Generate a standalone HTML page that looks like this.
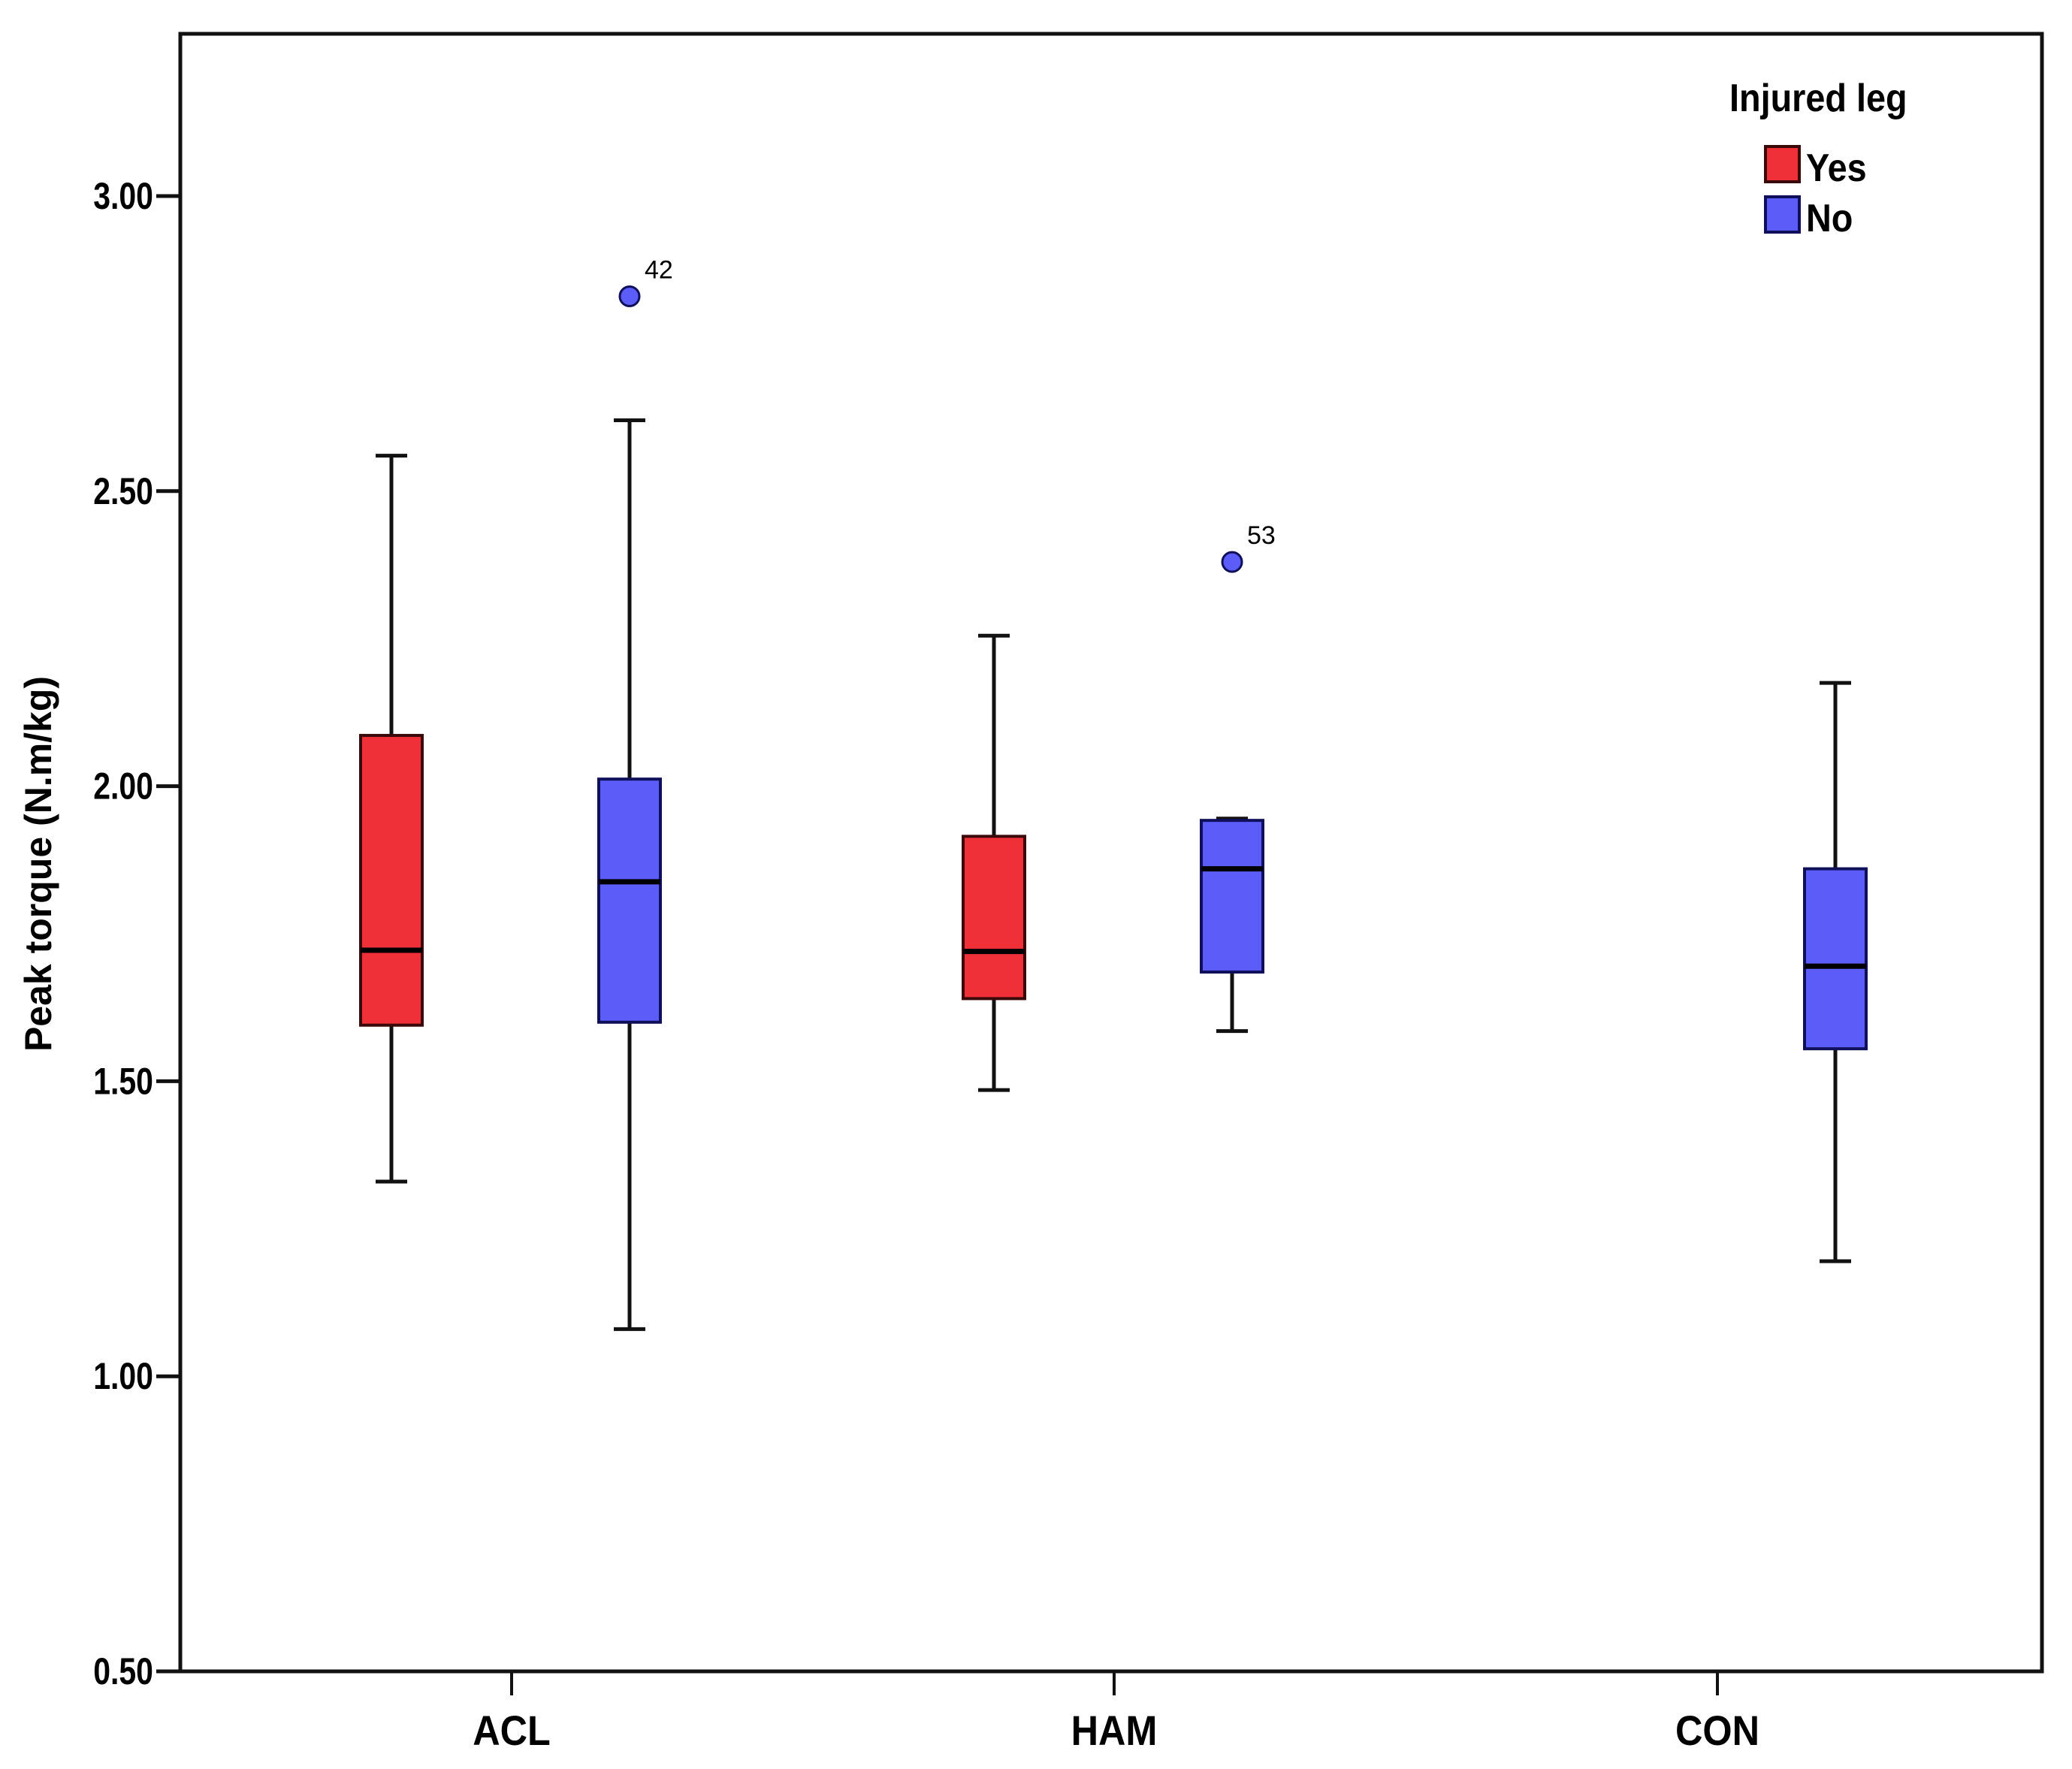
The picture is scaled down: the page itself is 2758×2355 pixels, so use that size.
<!DOCTYPE html>
<html><head><meta charset="utf-8"><style>
html,body{margin:0;padding:0;background:#fff}
svg text{font-family:"Liberation Sans Narrow","Liberation Sans",sans-serif}
</style></head><body>
<svg width="2758" height="2350" viewBox="0 0 2758 2350" xmlns="http://www.w3.org/2000/svg">
<g id="chart"></g>
</svg>
<script>
const categories = ["ACL","HAM","CON"];
const yTicks = [0.5,1.0,1.5,2.0,2.5,3.0];
const yTickLabels = ["0.50","1.00","1.50","2.00","2.50","3.00"];
// boxes: category, group (Yes/No), lower whisker, Q1, median, Q3, upper whisker
const boxCategory = ["ACL","ACL","HAM","HAM","CON"];
const boxGroup = ["Yes","No","Yes","No","No"];
const whiskerLow = [1.33,1.08,1.485,1.585,1.195];
const q1 = [1.595,1.60,1.64,1.685,1.555];
const median = [1.722,1.838,1.72,1.86,1.695];
const q3 = [2.086,2.012,1.915,1.942,1.86];
const whiskerHigh = [2.56,2.62,2.255,1.945,2.175];
const outlierCategory = ["ACL","HAM"];
const outlierValue = [2.83,2.38];
const outlierLabel = ["42","53"];

const L=240,R=2718,T=45,B=2225;
const y=v=>B-(v-0.5)*(B-261)/2.5;
const catX={ACL:681,HAM:1483,CON:2286};
const off={Yes:-160,No:157};
const fill={Yes:"#ef3038",No:"#5c5cf8"};
const stroke={Yes:"#3a0a0a",No:"#10105a"};
const ns="http://www.w3.org/2000/svg";
const g=document.getElementById('chart');
function mk(tag,attrs,parent){const e=document.createElementNS(ns,tag);for(const k in attrs)e.setAttribute(k,attrs[k]);(parent||g).appendChild(e);return e;}

const frame=mk('rect',{x:L,y:T,width:R-L,height:B-T,fill:'none',stroke:'#111','stroke-width':5});



yTicks.forEach((v,i)=>{
  const t=mk('line',{x1:208,x2:L,y1:y(v),y2:y(v),stroke:'#111','stroke-width':5});
  
  
  const tx=mk('text',{x:204,y:y(v)+17,'text-anchor':'end','font-size':50,'font-weight':'bold',fill:'#000'});
  tx.setAttribute('transform',`translate(${204*0.18} 0) scale(0.82 1)`);
  tx.textContent=yTickLabels[i];
  
  
});

categories.forEach(c=>{
  const x=catX[c];
  const t=mk('line',{x1:x,x2:x,y1:B,y2:B+32,stroke:'#111','stroke-width':4});
  
  
  const tx=mk('text',{x:0,y:0,'text-anchor':'middle','font-size':56,'font-weight':'bold',fill:'#000'});
  tx.setAttribute('transform',`translate(${x} ${B+98}) scale(0.9 1)`);
  tx.textContent=c;
  
  
});

const yt=mk('text',{x:0,y:0,'text-anchor':'middle','font-size':50,'font-weight':'bold',fill:'#000',transform:'translate(68 1150) rotate(-90)'});
yt.textContent='Peak torque (N.m/kg)';



const bw=82,cw=42;
boxCategory.forEach((c,i)=>{
  const cx=catX[c]+off[boxGroup[i]];
  const grp=mk('g',{});
  
  
  mk('line',{x1:cx,x2:cx,y1:y(whiskerHigh[i]),y2:y(q3[i]),stroke:'#111','stroke-width':5},grp);
  mk('line',{x1:cx,x2:cx,y1:y(q1[i]),y2:y(whiskerLow[i]),stroke:'#111','stroke-width':5},grp);
  mk('line',{x1:cx-cw/2,x2:cx+cw/2,y1:y(whiskerHigh[i]),y2:y(whiskerHigh[i]),stroke:'#111','stroke-width':5},grp);
  mk('line',{x1:cx-cw/2,x2:cx+cw/2,y1:y(whiskerLow[i]),y2:y(whiskerLow[i]),stroke:'#111','stroke-width':5},grp);
  mk('rect',{x:cx-bw/2,y:y(q3[i]),width:bw,height:y(q1[i])-y(q3[i]),fill:fill[boxGroup[i]],stroke:stroke[boxGroup[i]],'stroke-width':4},grp);
  mk('line',{x1:cx-bw/2,x2:cx+bw/2,y1:y(median[i]),y2:y(median[i]),stroke:'#000','stroke-width':7},grp);
});

outlierCategory.forEach((c,i)=>{
  const cx=catX[c]+off.No;
  const o=mk('circle',{cx:cx,cy:y(outlierValue[i]),r:13,fill:'#5c5cf8',stroke:'#10105a','stroke-width':3});
  
  
  const t=mk('text',{x:cx+20,y:y(outlierValue[i])-24,'font-size':34,fill:'#000'});
  t.textContent=outlierLabel[i];
  
  
});

const lg=mk('g',{});


const lt=mk('text',{x:0,y:0,'font-size':52,'font-weight':'bold',fill:'#000'},lg);
lt.setAttribute('transform','translate(2302 148) scale(0.9 1)');
lt.textContent='Injured leg';


[["Yes",195],["No",262]].forEach(([k,yy])=>{
  const e=mk('g',{},lg);
  
  
  mk('rect',{x:2350,y:yy,width:45,height:47,fill:fill[k],stroke:stroke[k],'stroke-width':4},e);
  const t=mk('text',{x:0,y:0,'font-size':52,'font-weight':'bold',fill:'#000'},e);
  t.setAttribute('transform',`translate(2404 ${yy+46}) scale(0.9 1)`);
  t.textContent=k;
});
</script>
</body></html>
